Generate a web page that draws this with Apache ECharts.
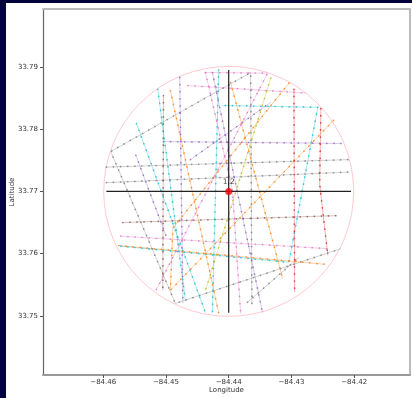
<!DOCTYPE html>
<html>
<head>
<meta charset="utf-8">
<script src="https://cdn.jsdelivr.net/npm/echarts@6/dist/echarts.min.js"></script>
<style>
  html, body { margin: 0; padding: 0; background: #02023d; }
  #chart { position: absolute; left: 6px; top: 3px; width: 406px; height: 395px; background: #fff; }
</style>
</head>
<body>
<div id="chart"></div>
<script>
// tick labels / axis ranges
const xTicks = [-84.46, -84.45, -84.44, -84.43, -84.42];
const yTicks = [33.75, 33.76, 33.77, 33.78, 33.79];
const xRange = [-84.4696, -84.4111];
const yRange = [33.7405, 33.7993];

// search point + radius
const center = [-84.44, 33.77];
const centerLabel = '1,2';
const radius = 0.02;
const crossH = [[-84.4595, 33.77], [-84.4205, 33.77]];
const crossV = [[-84.44, 33.7505], [-84.44, 33.7895]];

// routes, one list per colour: each route is [lon, lat] stops
const grayRoutes = [
  [[-84.4363, 33.7520], [-84.4365, 33.7891], [-84.4588, 33.7764], [-84.4485, 33.7520], [-84.4221, 33.7608]],
  [[-84.4595, 33.7739], [-84.4209, 33.7751]],
  [[-84.4595, 33.7714], [-84.4209, 33.7731]],
  [[-84.4370, 33.7522], [-84.4288, 33.7594]]
];
const orangeRoutes = [
  [[-84.4493, 33.7862], [-84.4416, 33.7505]],
  [[-84.4397, 33.7875], [-84.4314, 33.7560]],
  [[-84.4304, 33.7874], [-84.4489, 33.7641], [-84.4493, 33.7541]],
  [[-84.4233, 33.7814], [-84.4493, 33.7541]],
  [[-84.4575, 33.7613], [-84.4248, 33.7583]]
];
const purpleRoutes = [
  [[-84.4478, 33.7883], [-84.4473, 33.7520]],
  [[-84.4504, 33.7780], [-84.4221, 33.7777]],
  [[-84.4461, 33.7751], [-84.4333, 33.7843]],
  [[-84.4426, 33.7891], [-84.4346, 33.7505]],
  [[-84.4548, 33.7758], [-84.4500, 33.7629]]
];
const cyanRoutes = [
  [[-84.4547, 33.7809], [-84.4437, 33.7505]],
  [[-84.4513, 33.7864], [-84.4469, 33.7525]],
  [[-84.4416, 33.7895], [-84.4426, 33.7505]],
  [[-84.4572, 33.7612], [-84.4304, 33.7586], [-84.4258, 33.7835], [-84.4410, 33.7838]]
];
const pinkRoutes = [
  [[-84.4437, 33.7891], [-84.4338, 33.7890], [-84.4516, 33.7541]],
  [[-84.4437, 33.7891], [-84.4394, 33.7702], [-84.4381, 33.7504]],
  [[-84.4465, 33.7870], [-84.4277, 33.7858]],
  [[-84.4572, 33.7628], [-84.4242, 33.7608]]
];
const oliveRoutes = [
  [[-84.4333, 33.7882], [-84.4437, 33.7541]]
];
const redRoutes = [
  [[-84.4296, 33.7864], [-84.4295, 33.7538]],
  [[-84.4253, 33.7833], [-84.4255, 33.7712], [-84.4242, 33.7597]]
];
const brownRoutes = [
  [[-84.4504, 33.7854], [-84.4505, 33.7541]],
  [[-84.4569, 33.7650], [-84.4228, 33.7661]]
];

const GROUPS = [
  [grayRoutes, '#7f7f7f'],
  [brownRoutes, '#8c564b'],
  [purpleRoutes, '#9467bd'],
  [cyanRoutes, '#17becf'],
  [pinkRoutes, '#e377c2'],
  [orangeRoutes, '#ff7f0e'],
  [oliveRoutes, '#bcbd22'],
  [redRoutes, '#d62728']
];

const FONT = 'DejaVu Sans, sans-serif';
const fmt = v => (v < 0 ? '\u2212' : '') + Math.abs(v).toFixed(2);

const chart = echarts.init(document.getElementById('chart'));

const series = [];

// pink radius circle, sized through the axis scales
series.push({
  type: 'custom',
  silent: true,
  z: 1,
  clip: false,
  data: [center],
  encode: { x: 0, y: 1 },
  renderItem: (params, api) => {
    const c = api.coord([api.value(0), api.value(1)]);
    const s = api.size([radius, radius]);
    return {
      type: 'circle',
      shape: { cx: c[0], cy: c[1], r: (s[0] + s[1]) / 2 },
      style: { fill: 'none', stroke: 'rgba(255,150,170,0.5)', lineWidth: 1 }
    };
  }
});

GROUPS.forEach(([routes, color]) => {
  routes.forEach(route => {
    // thin pale route line
    series.push({
      type: 'line', data: route, showSymbol: false, silent: true, z: 2,
      lineStyle: { color: color, width: 0.9, opacity: 0.4 }
    });
    // stop markers along the route
    series.push({
      type: 'line', data: route, showSymbol: false, silent: true, z: 3,
      lineStyle: { color: color, width: 1.7, opacity: 0.8, type: [0.1, 7], cap: 'round' }
    });
  });
});

// crosshair
[crossH, crossV].forEach(seg => {
  series.push({
    type: 'line', data: seg, showSymbol: false, silent: true, z: 4,
    lineStyle: { color: '#222', width: 1.2 }
  });
});

// centre point
series.push({
  type: 'scatter', data: [center], symbolSize: 7, z: 5,
  itemStyle: { color: '#ff0000' },
  label: {
    show: true, position: 'top', distance: 2, formatter: centerLabel,
    fontFamily: FONT, fontSize: 7.5, color: '#111'
  }
});

const option = {
  animation: false,
  grid: { left: 37, right: 2, top: 6, bottom: 23, containLabel: false, outerBoundsMode: 'none' },
  xAxis: [
    {
      type: 'value', min: xRange[0], max: xRange[1],
      name: 'Longitude', nameLocation: 'middle', nameGap: 12, nameMoveOverlap: false,
      nameTextStyle: { fontFamily: FONT, fontSize: 7, color: '#333' },
      axisLine: { onZero: false, lineStyle: { color: '#9a9a9a', width: 2 } },
      axisTick: { customValues: xTicks, length: 3, lineStyle: { color: '#555' } },
      axisLabel: { customValues: xTicks, formatter: fmt, margin: 4, fontFamily: FONT, fontSize: 7, color: '#333' },
      splitLine: { show: false }
    },
    {
      type: 'value', min: xRange[0], max: xRange[1], position: 'top',
      axisLine: { onZero: false, lineStyle: { color: '#bbbbbb', width: 2 } },
      axisTick: { show: false }, axisLabel: { show: false }, splitLine: { show: false }
    }
  ],
  yAxis: [
    {
      type: 'value', min: yRange[0], max: yRange[1],
      name: 'Latitude', nameLocation: 'middle', nameGap: 27, nameMoveOverlap: false,
      nameTextStyle: { fontFamily: FONT, fontSize: 7, color: '#333' },
      axisLine: { show: true, onZero: false, lineStyle: { color: '#666', width: 1.2 } },
      axisTick: { show: true, customValues: yTicks, length: 3, lineStyle: { color: '#555' } },
      axisLabel: { customValues: yTicks, formatter: v => v.toFixed(2), margin: 5, fontFamily: FONT, fontSize: 7, color: '#333' },
      splitLine: { show: false }
    },
    {
      type: 'value', min: yRange[0], max: yRange[1], position: 'right',
      axisLine: { show: true, onZero: false, lineStyle: { color: '#bbbbbb', width: 2 } },
      axisTick: { show: false }, axisLabel: { show: false }, splitLine: { show: false }
    }
  ],
  series: series
};

chart.setOption(option);
</script>
</body>
</html>
